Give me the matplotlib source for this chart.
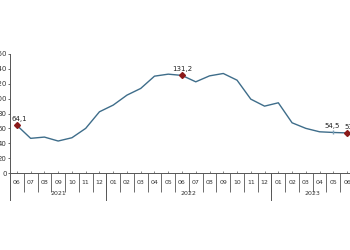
import matplotlib
matplotlib.use('Agg')
import matplotlib.pyplot as plt

# months 06/2021 .. 06/2023
months = ['06', '07', '08', '09', '10', '11', '12',
          '01', '02', '03', '04', '05', '06', '07', '08', '09', '10', '11', '12',
          '01', '02', '03', '04', '05', '06']
years = ['2021', '2022', '2023']
year_spans = [(0, 6), (7, 18), (19, 24)]
values = [64.1, 46.6, 48.3, 43.0, 47.4, 60.0, 82.3, 91.3, 104.7, 113.7, 130.2, 132.9,
          131.2, 122.6, 130.6, 133.8, 124.8, 99.3, 89.9, 94.4, 67.5, 60.0, 55.4, 54.5, 53.9]
labels = {0: '64,1', 12: '131,2', 23: '54,5', 24: '53,9'}
yticks = [0, 20, 40, 60, 80, 100, 120, 140, 160]

LINE = '#3e6d8a'
RED = '#8b1a1a'

fig = plt.figure(figsize=(3.5, 2.5), dpi=100)
ax = fig.add_axes([10 / 350, 77 / 250, 344 / 350, 119 / 250])

x = list(range(len(values)))
ax.plot(x, values, color=LINE, linewidth=1.0)
# label offsets (in category units) and alignment
offs = {0: (0.15, 'center'), 12: (0.0, 'center'), 23: (-0.1, 'center'), 24: (-0.2, 'left')}
for i, t in labels.items():
    c = '#7fa2b8' if i == 23 else RED
    ax.plot(i, values[i], marker='D' if i != 23 else '|', markersize=3,
            color=c, markeredgecolor=c, zorder=3)
    dx, ha = offs[i]
    ax.text(i + dx, values[i] + 4, t, ha=ha, va='bottom', fontsize=5,
            color='#222222')

ax.set_xlim(-0.5, len(values) - 0.5)
ax.set_ylim(0, 160)
ax.set_yticks(yticks)
ax.set_yticklabels([str(v) for v in yticks], fontsize=5, color='#333333')
ax.tick_params(axis='y', length=1.5, width=0.6, pad=1, color='#555555')

for s in ['top', 'right']:
    ax.spines[s].set_visible(False)
for s in ['left', 'bottom']:
    ax.spines[s].set_color('#555555')
    ax.spines[s].set_linewidth(0.7)

# month labels and category separators
ax.set_xticks(x)
ax.set_xticklabels(months, fontsize=4.5, color='#333333')
ax.tick_params(axis='x', length=1.5, width=0.5, direction='in', pad=5,
               color='#555555')
ax.set_xticks([i + 0.5 for i in x[:-1]], minor=True)
ax.tick_params(axis='x', which='minor', length=14, width=0.6,
               direction='out', color='#555555')

# year separators and labels
trans = ax.get_xaxis_transform()
for k, (a, b) in enumerate(year_spans):
    ax.text((a + b) / 2, -0.17, years[k], transform=trans, ha='center',
            va='center', fontsize=4.5, color='#333333')
for xs in [-0.5, 6.5, 18.5]:
    ax.plot([xs, xs], [0, -0.23], transform=trans, color='#555555',
            linewidth=0.7, clip_on=False)

fig.savefig('out.png', dpi=100, facecolor='white')
